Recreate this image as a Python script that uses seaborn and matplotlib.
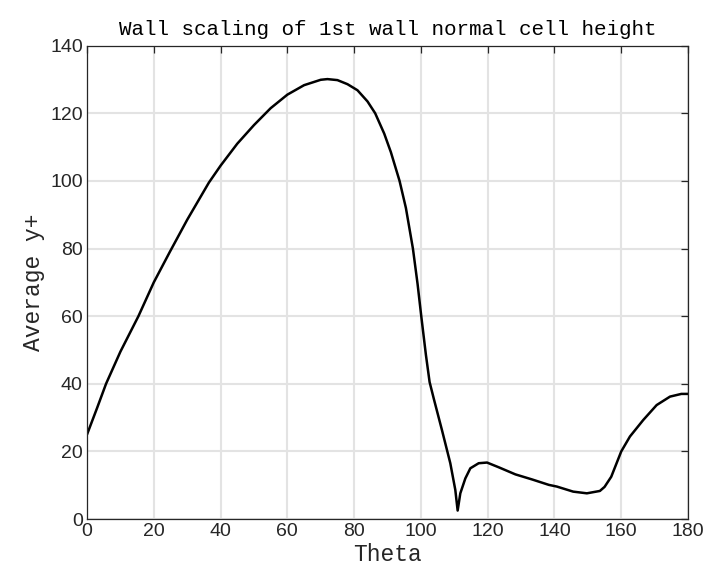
import matplotlib
matplotlib.use("Agg")
import matplotlib.pyplot as plt
import seaborn as sns
import pandas as pd

theta = [0, 3, 5.7, 10, 15.4, 20, 24.8, 30, 36.5, 40, 45, 50, 55, 60, 65, 70, 72,
         75, 78, 81, 84, 86.3, 89, 91, 93.6, 95.5, 97.6, 99, 100.1, 101.5, 102.6,
         103.9, 106.3, 108.8, 110.3, 111, 111.8, 113.3, 114.8, 117.3, 119.8, 123.3,
         128.3, 133.3, 138.3, 140.7, 145.6, 149.7, 153.6, 155, 157, 160, 162.6,
         166.6, 170.6, 174.6, 178, 180]
avg_yplus = [25, 32.8, 40, 49.5, 60, 70, 79, 88.5, 99.5, 104.5, 111, 116.5, 121.5,
             125.5, 128.3, 129.9, 130.1, 129.8, 128.6, 126.8, 123.5, 120, 114, 108.5,
             100, 92, 80, 69.5, 60, 48.5, 40.5,
             35.4, 26.3, 16.5, 8.6, 2.5, 7.6, 12, 15, 16.5, 16.7, 15.3,
             13.2, 11.7, 10.1, 9.6, 8.1, 7.6, 8.3, 9.5, 12.5, 20, 24.4,
             29.3, 33.7, 36.2, 37, 37]
x_ticks = [0, 20, 40, 60, 80, 100, 120, 140, 160, 180]
y_ticks = [0, 20, 40, 60, 80, 100, 120, 140]

df = pd.DataFrame({"Theta": theta, "Average y+": avg_yplus})

sns.set_style("whitegrid")
plt.rcParams["font.family"] = ["Liberation Sans", "DejaVu Sans"]

fig = plt.figure(figsize=(7.11, 5.79), dpi=100)
ax = fig.add_axes([0.1224, 0.1036, 0.8453, 0.8176])

sns.lineplot(data=df, x="Theta", y="Average y+", ax=ax, color="black",
             linewidth=1.8, sort=False, estimator=None)

ax.set_xlim(0, 180)
ax.set_ylim(0, 140)
ax.set_xticks(x_ticks)
ax.set_yticks(y_ticks)
ax.grid(True, color="#e3e3e3", linewidth=1.5)
ax.set_axisbelow(True)
for s in ax.spines.values():
    s.set_visible(True)
    s.set_color("#262626")
    s.set_linewidth(0.9)
ax.tick_params(direction="in", length=5, width=0.9, color="#262626",
               top=True, right=True, labelsize=14, labelcolor="#262626", pad=3)

mono = ["Liberation Mono", "DejaVu Sans Mono"]
ax.set_title("Wall scaling of 1st wall normal cell height", family=mono,
             fontsize=15, color="black", pad=8)
ax.set_xlabel("Theta", family=mono, fontsize=16.5, color="#262626", labelpad=2)
ax.set_ylabel("Average y+", family=mono, fontsize=16.5, color="#262626", labelpad=4)

fig.savefig("out.png", dpi=100)
